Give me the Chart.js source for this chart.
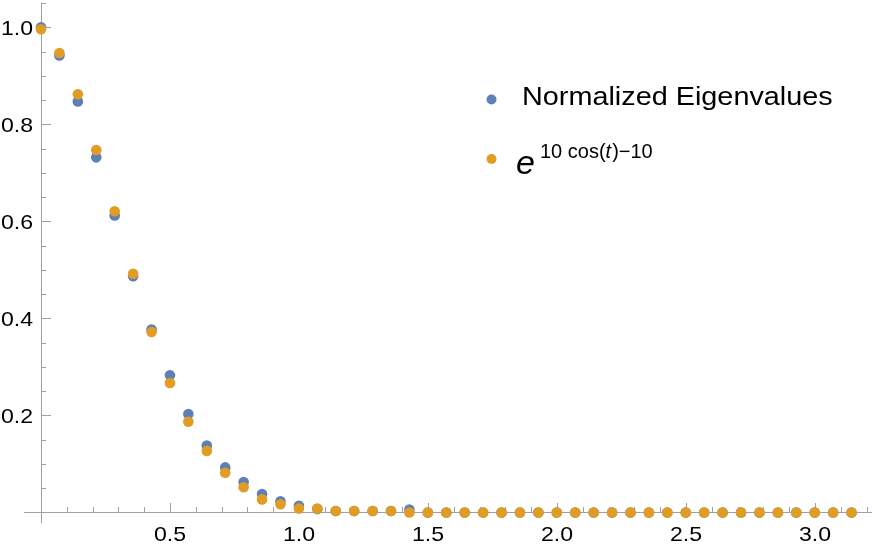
<!DOCTYPE html>
<html>
<head>
<meta charset="utf-8">
<script src="https://cdn.jsdelivr.net/npm/chart.js@4/dist/chart.umd.min.js"></script>
<style>
  html, body { margin: 0; padding: 0; background: #ffffff; }
  #wrap { width: 872px; height: 555px; }
</style>
</head>
<body>
<div id="wrap"><canvas id="plot" width="872" height="555"></canvas></div>
<script>
// t values (k*pi/44)
const tValues = [0, 0.0714, 0.1428, 0.2142, 0.2856, 0.3570, 0.4284, 0.4998, 0.5712, 0.6426,
    0.7140, 0.7854, 0.8568, 0.9282, 0.9996, 1.0710, 1.1424, 1.2138, 1.2852, 1.3566,
    1.4280, 1.4994, 1.5708, 1.6422, 1.7136, 1.7850, 1.8564, 1.9278, 1.9992, 2.0706,
    2.1420, 2.2134, 2.2848, 2.3562, 2.4276, 2.4990, 2.5704, 2.6418, 2.7132, 2.7846,
    2.8560, 2.9274, 2.9988, 3.0702, 3.1416];

const eigenValues = [1.0, 0.942, 0.847, 0.732, 0.612, 0.487, 0.377, 0.283, 0.203, 0.138,
    0.093, 0.063, 0.038, 0.023, 0.014, 0.007, 0.003, 0.003, 0.003, 0.003,
    0.006, 0, 0, 0, 0, 0, 0, 0, 0, 0,
    0, 0, 0, 0, 0, 0, 0, 0, 0, 0,
    0, 0, 0, 0, 0];

const expCosValues = [0.996, 0.947, 0.862, 0.747, 0.621, 0.492, 0.372, 0.267, 0.187, 0.127,
    0.082, 0.052, 0.027, 0.017, 0.008, 0.008, 0.003, 0.003, 0.003, 0.003,
    0, 0, 0, 0, 0, 0, 0, 0, 0, 0,
    0, 0, 0, 0, 0, 0, 0, 0, 0, 0,
    0, 0, 0, 0, 0];

const xMajorTicks = [0.5, 1.0, 1.5, 2.0, 2.5, 3.0];
const xTickLabels = ['0.5', '1.0', '1.5', '2.0', '2.5', '3.0'];
const yMajorTicks = [0.2, 0.4, 0.6, 0.8, 1.0];
const yTickLabels = ['0.2', '0.4', '0.6', '0.8', '1.0'];
const seriesNames = ['Normalized Eigenvalues', 'e^(10 cos(t)-10)'];

const BLUE = '#5e81b5';
const ORANGE = '#e19c24';
const AXIS = '#a0a0a0';
const FONT = '"Liberation Sans", Arial, sans-serif';
const STRETCH = 1.1;

function toPoints(xs, ys) {
    return xs.map((x, i) => ({ x: x, y: ys[i] }));
}

function stretchedText(ctx, text, x, y, align, k) {
    ctx.save();
    ctx.translate(x, y);
    ctx.scale(k || STRETCH, 1);
    ctx.textAlign = align;
    ctx.fillText(text, 0, 0);
    ctx.restore();
}

// Mathematica-style axes crossing at the origin, ticks pointing inward
const axesPlugin = {
    id: 'mmaAxes',
    beforeDatasetsDraw(chart) {
        const ctx = chart.ctx;
        const xs = chart.scales.x;
        const ys = chart.scales.y;
        const x0 = Math.round(xs.getPixelForValue(0));
        const y0 = Math.round(ys.getPixelForValue(0));

        ctx.save();
        ctx.strokeStyle = AXIS;
        ctx.lineWidth = 1;
        ctx.beginPath();
        ctx.moveTo(xs.getPixelForValue(-0.066), y0 + 0.5);
        ctx.lineTo(chart.chartArea.right, y0 + 0.5);
        ctx.moveTo(x0 + 0.5, ys.getPixelForValue(1.051));
        ctx.lineTo(x0 + 0.5, ys.getPixelForValue(-0.022));

        // x ticks every 0.1, long ones at the labelled values
        for (let i = 1; i <= 32; i++) {
            const v = i / 10;
            const px = Math.round(xs.getPixelForValue(v)) + 0.5;
            const len = xMajorTicks.some(m => Math.abs(m - v) < 1e-6) ? 9 : 5;
            ctx.moveTo(px, y0);
            ctx.lineTo(px, y0 - len);
        }
        // y ticks every 0.05
        for (let i = 1; i <= 21; i++) {
            const v = i / 20;
            const py = Math.round(ys.getPixelForValue(v)) + 0.5;
            const len = yMajorTicks.some(m => Math.abs(m - v) < 1e-6) ? 10 : 5;
            ctx.moveTo(x0, py);
            ctx.lineTo(x0 + len, py);
        }
        ctx.stroke();

        ctx.fillStyle = '#000000';
        ctx.font = '21px ' + FONT;
        ctx.textBaseline = 'alphabetic';
        xMajorTicks.forEach((v, i) => {
            stretchedText(ctx, xTickLabels[i], xs.getPixelForValue(v), y0 + 29, 'center');
        });
        yMajorTicks.forEach((v, i) => {
            stretchedText(ctx, yTickLabels[i], 33, ys.getPixelForValue(v) + 7.5, 'right');
        });
        ctx.restore();
    },
    afterDatasetsDraw(chart) {
        const ctx = chart.ctx;
        ctx.save();
        // legend markers
        ctx.fillStyle = BLUE;
        ctx.beginPath();
        ctx.arc(491.5, 99.5, 5, 0, Math.PI * 2);
        ctx.fill();
        ctx.fillStyle = ORANGE;
        ctx.beginPath();
        ctx.arc(491.5, 159, 5, 0, Math.PI * 2);
        ctx.fill();

        ctx.fillStyle = '#000000';
        ctx.textBaseline = 'alphabetic';
        ctx.font = '25.5px ' + FONT;
        stretchedText(ctx, seriesNames[0], 522, 105, 'left', 1.13);

        // e^{10 cos(t) - 10}
        ctx.textAlign = 'left';
        ctx.font = 'italic 34px ' + FONT;
        ctx.fillText('e', 516, 174);
        let x = 540;
        ctx.font = '20px ' + FONT;
        ctx.fillText('10 cos(', x, 157.5);
        x += ctx.measureText('10 cos(').width;
        ctx.font = 'italic 20px ' + FONT;
        ctx.fillText('t', x, 157.5);
        x += ctx.measureText('t').width + 1;
        ctx.font = '20px ' + FONT;
        ctx.fillText(')\u221210', x, 157.5);
        ctx.restore();
    }
};

new Chart(document.getElementById('plot'), {
    type: 'scatter',
    data: {
        datasets: [
            {
                label: seriesNames[0],
                data: toPoints(tValues, eigenValues),
                backgroundColor: BLUE,
                pointRadius: 5.3,
                pointBorderWidth: 0,
                order: 2
            },
            {
                label: seriesNames[1],
                data: toPoints(tValues, expCosValues),
                backgroundColor: ORANGE,
                pointRadius: 5.3,
                pointBorderWidth: 0,
                order: 1
            }
        ]
    },
    options: {
        responsive: false,
        animation: false,
        devicePixelRatio: 1,
        layout: { padding: 0, autoPadding: false },
        scales: {
            x: { type: 'linear', min: -0.1589, max: 3.2209, display: false },
            y: { type: 'linear', min: -0.0876, max: 1.0563, display: false }
        },
        plugins: {
            legend: { display: false },
            tooltip: { enabled: false }
        }
    },
    plugins: [axesPlugin]
});
</script>
</body>
</html>
